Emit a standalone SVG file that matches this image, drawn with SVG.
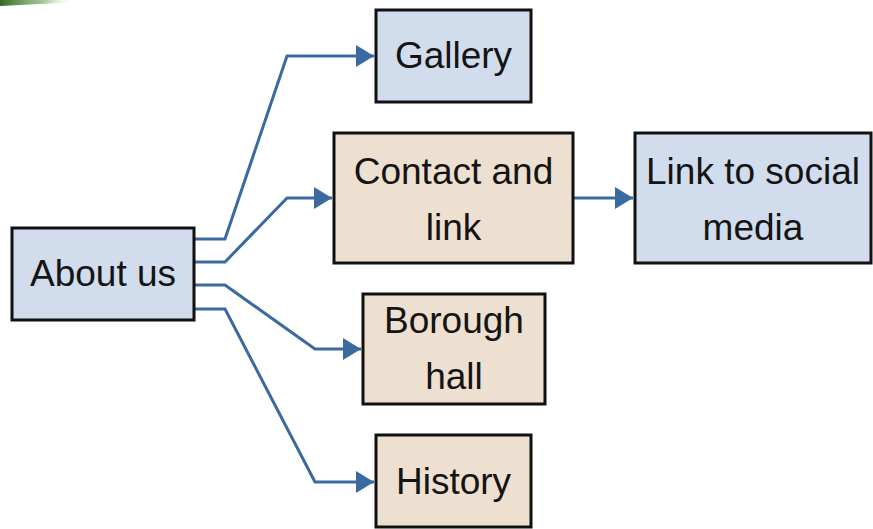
<svg xmlns="http://www.w3.org/2000/svg" width="873" height="529" viewBox="0 0 873 529">
  <defs>
    <marker id="arrow" markerWidth="18" markerHeight="22" refX="18" refY="11" orient="auto" markerUnits="userSpaceOnUse">
      <path d="M0,0 L18,11 L0,22 Z" fill="#3A6A9F"/>
    </marker>
    <linearGradient id="leaf" x1="0" y1="0" x2="1" y2="0">
      <stop offset="0" stop-color="#2E6B1E"/>
      <stop offset="0.6" stop-color="#6FA860" stop-opacity="0.6"/>
      <stop offset="1" stop-color="#FFFFFF" stop-opacity="0"/>
    </linearGradient>
    <style>
      .box { stroke: #111111; stroke-width: 3; }
      .blue { fill: #D1DCEC; }
      .tan { fill: #EEE0D1; }
      .label { font-family: "Liberation Sans", Arial, sans-serif; font-size: 37px; fill: #141414; text-anchor: middle; }
      .link { fill: none; stroke: #3A6A9F; stroke-width: 3; stroke-linejoin: miter; marker-end: url(#arrow); }
    </style>
  </defs>
  <rect width="873" height="529" fill="#FFFFFF"/>
  <!-- corner accent -->
  <path d="M0,0 L75,0 L60,3 L0,6 Z" fill="url(#leaf)"/>

  <g id="connectors">
    <path class="link" d="M194,239 L225,239 L287,56 L374,56"/>
    <path class="link" d="M194,262 L225,262 L287,198 L332,198"/>
    <path class="link" d="M194,285 L225,285 L315,349 L361,349"/>
    <path class="link" d="M194,309 L225,309 L315,482 L374,482"/>
    <path class="link" d="M573,198 L633,198"/>
  </g>

  <g id="about-us">
    <rect class="box blue" x="12" y="228" width="182" height="92"/>
    <text class="label" x="103" y="286">About us</text>
  </g>
  <g id="gallery">
    <rect class="box blue" x="376" y="10" width="155" height="92"/>
    <text class="label" x="453.5" y="68">Gallery</text>
  </g>
  <g id="contact-and-link">
    <rect class="box tan" x="334" y="133" width="239" height="130"/>
    <text class="label" x="453.5" y="184">Contact and</text>
    <text class="label" x="453.5" y="240">link</text>
  </g>
  <g id="link-to-social-media">
    <rect class="box blue" x="635" y="133" width="236" height="130"/>
    <text class="label" x="753" y="184">Link to social</text>
    <text class="label" x="753" y="240">media</text>
  </g>
  <g id="borough-hall">
    <rect class="box tan" x="363" y="294" width="182" height="110"/>
    <text class="label" x="454" y="333">Borough</text>
    <text class="label" x="454" y="389">hall</text>
  </g>
  <g id="history">
    <rect class="box tan" x="376" y="435" width="155" height="92"/>
    <text class="label" x="453.5" y="494">History</text>
  </g>
</svg>
